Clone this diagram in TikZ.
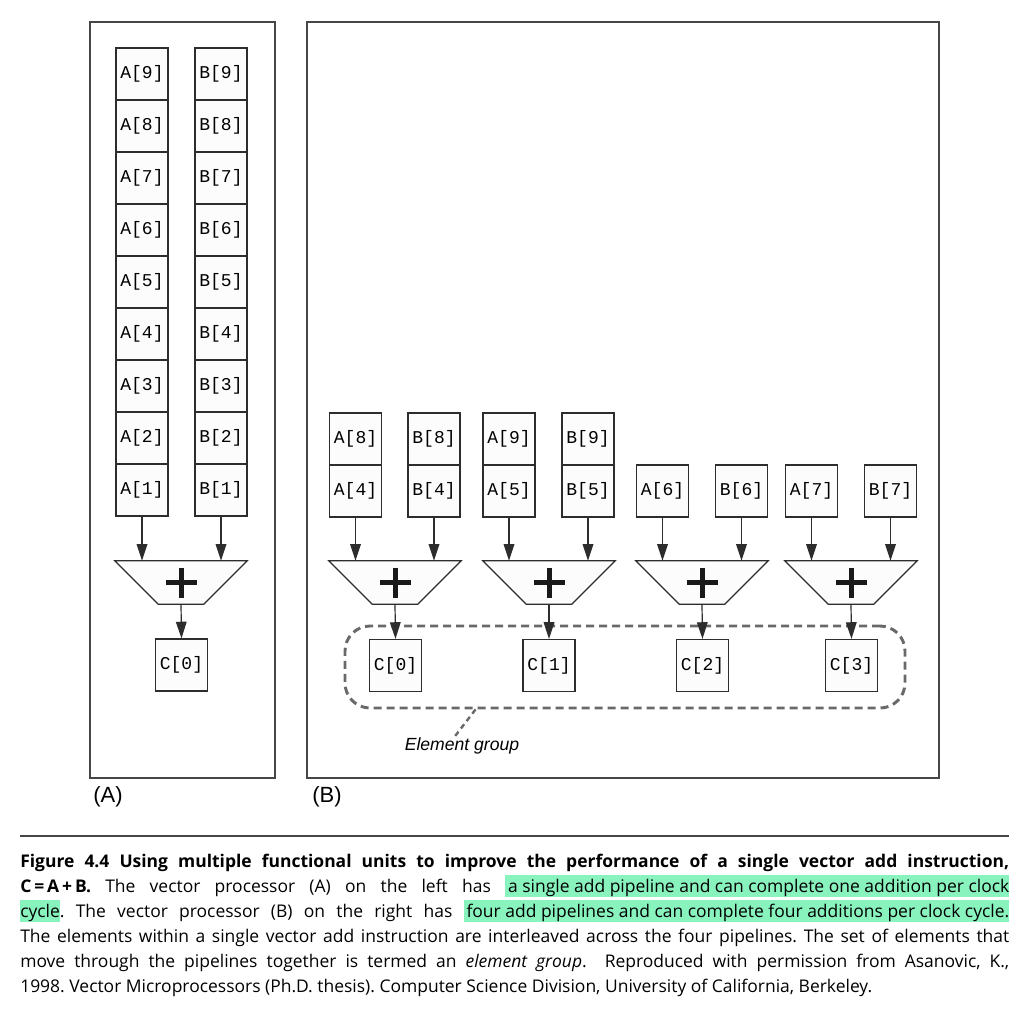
\documentclass[tikz,border=0pt]{standalone}
\usepackage{fontspec}
\usetikzlibrary{arrows.meta,calc}
\newfontfamily\capfont{Open Sans}
\newfontfamily\monofont{Liberation Mono}
\newfontfamily\helv{Liberation Sans}
\definecolor{hlgreen}{RGB}{137,243,190}
\definecolor{linecol}{RGB}{45,45,45}
\definecolor{framecol}{RGB}{70,70,70}
\definecolor{dashcol}{RGB}{105,105,105}
\definecolor{cellfill}{RGB}{252,252,252}
\definecolor{plusk}{RGB}{25,25,25}
\newcommand{\hlt}[1]{{\setlength{\fboxsep}{0pt}\colorbox{hlgreen}{\rule[-3.75pt]{0pt}{16.5pt}#1}}}
\newcommand{\capsize}{\fontsize{13.1pt}{15pt}\selectfont}
\frenchspacing
\begin{document}
\begin{tikzpicture}[x=0.75pt,y=-0.75pt,
  cell/.style={draw=linecol, line width=0.9pt, fill=cellfill, minimum width=39pt, minimum height=39pt, inner sep=0pt,
    font=\monofont\fontsize{13.5pt}{15pt}\selectfont},
  trapbox/.style={minimum width=99pt, minimum height=32.25pt, inner sep=0pt},
  trapdraw/.style={draw=linecol, line width=0.9pt, fill=cellfill},
  plus/.style={draw=plusk, line width=3.75pt},
  arr/.style={draw=linecol, line width=0.9pt, -{Triangle[length=12.5pt,width=8pt]}},
  frame/.style={draw=framecol, line width=1.1pt},
  groupbox/.style={draw=dashcol, line width=2.2pt, dash pattern=on 6pt off 3.75pt, rounded corners=18.75pt,
    minimum width=420pt, minimum height=61.5pt, inner sep=0pt},
  leader/.style={draw=dashcol, line width=1.8pt, dash pattern=on 4pt off 3pt},
  panellabel/.style={font=\helv\fontsize{16.5pt}{18pt}\selectfont, inner sep=0pt, anchor=west},
  capline/.style={anchor=base west, inner sep=0pt, font=\capfont\capsize\frenchspacing}
]
\useasboundingbox (0,0) rectangle (1024,1012);
\fill[white] (0,0) rectangle (1024,1012);

% frames
\draw[frame] (90,22) rectangle (275,778);
\draw[frame] (307,22) rectangle (939,778);

% ---------------- Panel A ----------------
\foreach \i in {1,...,9}{
  \node[cell] (pa\i) at (142,{490-(\i-1)*52}) {A[\i]};
  \node[cell] (pb\i) at (221,{490-(\i-1)*52}) {B[\i]};
}
\node[trapbox] (ta) at (181,582.5) {};
\draw[trapdraw] (ta.north west) -- (ta.north east) -- ($(ta.south east)+(-43.5,0)$) -- ($(ta.south west)+(43.5,0)$) -- cycle;
\draw[plus] ($(ta.center)+(-15.5,0)$) -- ($(ta.center)+(15.5,0)$);
\draw[plus] ($(ta.center)+(0,-15)$) -- ($(ta.center)+(0,15)$);
\draw[arr] (pa1.south) -- (pa1.south |- ta.north);
\draw[arr] (pb1.south) -- (pb1.south |- ta.north);
\node[cell] (ca0) at (181.5,665) {C[0]};
\draw[arr] (ta.south) -- (ca0.north);

% ---------------- Panel B ----------------
% element group (behind arrows)
\node[groupbox] (eg) at (625,667) {};

\node[cell] (ba4) at (355.5,491) {A[4]};
\node[cell] (ba8) at (355.5,439) {A[8]};
\node[cell] (bb4) at (434,491) {B[4]};
\node[cell] (bb8) at (434,439) {B[8]};
\node[cell] (ba5) at (509,491) {A[5]};
\node[cell] (ba9) at (509,439) {A[9]};
\node[cell] (bb5) at (588,491) {B[5]};
\node[cell] (bb9) at (588,439) {B[9]};
\node[cell] (ba6) at (662.5,491) {A[6]};
\node[cell] (bb6) at (741.5,491) {B[6]};
\node[cell] (ba7) at (811.5,491) {A[7]};
\node[cell] (bb7) at (890.5,491) {B[7]};

\node[trapbox] (t0) at (395,582.5) {};
\node[trapbox] (t1) at (549,582.5) {};
\node[trapbox] (t2) at (702,582.5) {};
\node[trapbox] (t3) at (851,582.5) {};
\foreach \t in {t0,t1,t2,t3}{
  \draw[trapdraw] (\t.north west) -- (\t.north east) -- ($(\t.south east)+(-43.5,0)$) -- ($(\t.south west)+(43.5,0)$) -- cycle;
  \draw[plus] ($(\t.center)+(-15.5,0)$) -- ($(\t.center)+(15.5,0)$);
  \draw[plus] ($(\t.center)+(0,-15)$) -- ($(\t.center)+(0,15)$);
}
\draw[arr] (ba4.south) -- (ba4.south |- t0.north);
\draw[arr] (bb4.south) -- (bb4.south |- t0.north);
\draw[arr] (ba5.south) -- (ba5.south |- t1.north);
\draw[arr] (bb5.south) -- (bb5.south |- t1.north);
\draw[arr] (ba6.south) -- (ba6.south |- t2.north);
\draw[arr] (bb6.south) -- (bb6.south |- t2.north);
\draw[arr] (ba7.south) -- (ba7.south |- t3.north);
\draw[arr] (bb7.south) -- (bb7.south |- t3.north);

\node[cell] (cb0) at (395.5,665.5) {C[0]};
\node[cell] (cb1) at (549,665.5) {C[1]};
\node[cell] (cb2) at (702.5,665.5) {C[2]};
\node[cell] (cb3) at (851.5,665.5) {C[3]};
\draw[arr] (t0.south) -- (cb0.north);
\draw[arr] (t1.south) -- (cb1.north);
\draw[arr] (t2.south) -- (cb2.north);
\draw[arr] (t3.south) -- (cb3.north);

\node[font=\helv\itshape\fontsize{13.2pt}{15pt}\selectfont, inner sep=1pt] (egl) at (462,746) {Element group};
\coordinate (egp) at ($(eg.south west)+(132,0)$);
\draw[leader] (egp) -- ($(egl.north)+(-7,0)$);

% panel labels
\node[panellabel] (la) at (93,797) {(A)};
\node[panellabel] (lb) at (312,797) {(B)};

% ---------------- Caption ----------------
\draw[draw=framecol, line width=0.8pt] (20,836) -- (1009,836);
\node[capline] (c1) at (20,867) {\makebox[741.75pt][s]{\bfseries Figure 4.4 Using multiple functional units to improve the performance of a single vector add instruction,}};
\node[capline] (c2) at (20,892) {\makebox[741.75pt][s]{\textbf{C\,=\,A\,+\,B.} The vector processor (A) on the left has \hlt{\,a single add pipeline and can complete one addition per clock}}};
\node[capline] (c3) at (20,917) {\makebox[741.75pt][s]{\hlt{cycle}. The vector processor (B) on the right has \hlt{\,four add pipelines and can complete four additions per clock cycle.}}};
\node[capline] (c4) at (20,942) {\makebox[741.75pt][s]{The elements within a single vector add instruction are interleaved across the four pipelines. The set of elements that}};
\node[capline] (c5) at (20,967) {\makebox[741.75pt][s]{move through the pipelines together is termed an \textit{element group}.\ \ Reproduced with permission from Asanovic, K.,}};
\node[capline] (c6) at (20,992) {1998. Vector Microprocessors (Ph.D. thesis). Computer Science Division, University of California, Berkeley.};
\end{tikzpicture}
\end{document}
